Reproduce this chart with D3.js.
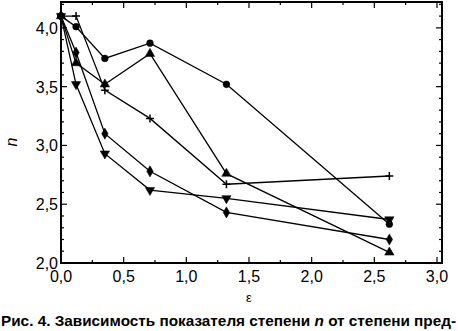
<!DOCTYPE html>
<html>
<head>
<meta charset="utf-8">
<script src="https://cdn.jsdelivr.net/npm/d3@7"></script>
<style>
body { margin: 0; background: #fff; }
text { font-family: "Liberation Sans", Arial, sans-serif; fill: #000; }
</style>
</head>
<body>
<script>
let w = 458;
let h = 331;

// x values (strain), shared by all curves
let eps = [0, 0.12, 0.35, 0.71, 1.32, 2.62];

// n values for each curve
let nCircle   = [4.10, 4.01, 3.74, 3.87, 3.52, 2.33];
let nPlus     = [4.10, 4.10, 3.47, 3.23, 2.67, 2.74];
let nTriUp    = [4.10, 3.70, 3.52, 3.78, 2.76, 2.09];
let nDiamond  = [4.10, 3.79, 3.10, 2.78, 2.43, 2.20];
let nTriDown  = [4.10, 3.52, 2.93, 2.62, 2.55, 2.37];

let xTicks = [0, 0.5, 1, 1.5, 2, 2.5, 3];
let yTicks = [2, 2.5, 3, 3.5, 4];

let series = [
    {marker: "circle", values: nCircle},
    {marker: "plus", values: nPlus},
    {marker: "triUp", values: nTriUp},
    {marker: "diamond", values: nDiamond},
    {marker: "triDown", values: nTriDown}
];

let fmt = function(d) { return d3.format(".1f")(d).replace(".", ","); };

let pLeft = 61, pRight = 442, pTop = 2, pBottom = 263;

let xScale = d3.scaleLinear().domain([0, 3.04]).range([pLeft, pRight]);
let yScale = d3.scaleLinear().domain([2, 4.22]).range([pBottom, pTop]);

let svg = d3.select("body").append("svg")
    .attr("width", w)
    .attr("height", h);

// ticks, drawn inward on all four sides
let ticks = svg.append("g").attr("stroke", "#000").attr("stroke-width", 1.2);
let yMinor = d3.range(2, 4.21, 0.1);
yMinor.forEach(function(v) {
    let major = yTicks.some(function(t) { return Math.abs(t - v) < 1e-6; });
    let len = major ? 6 : 3;
    ticks.append("line").attr("x1", pLeft).attr("x2", pLeft + len)
        .attr("y1", yScale(v)).attr("y2", yScale(v));
    ticks.append("line").attr("x1", pRight).attr("x2", pRight - len)
        .attr("y1", yScale(v)).attr("y2", yScale(v));
});
let xMinor = d3.range(0, 3.01, 0.25);
xMinor.forEach(function(v) {
    let major = xTicks.some(function(t) { return Math.abs(t - v) < 1e-6; });
    let len = major ? 6 : 3;
    ticks.append("line").attr("y1", pBottom).attr("y2", pBottom - len)
        .attr("x1", xScale(v)).attr("x2", xScale(v));
    ticks.append("line").attr("y1", pTop).attr("y2", pTop + len)
        .attr("x1", xScale(v)).attr("x2", xScale(v));
});

// frame
svg.append("rect")
    .attr("x", pLeft).attr("y", pTop)
    .attr("width", pRight - pLeft).attr("height", pBottom - pTop)
    .attr("fill", "none").attr("stroke", "#000").attr("stroke-width", 2);

// tick labels
svg.selectAll(".ylab").data(yTicks).enter().append("text")
    .attr("class", "ylab")
    .attr("x", pLeft - 3)
    .attr("y", function(d) { return yScale(d) + 6; })
    .attr("text-anchor", "end")
    .style("font-size", "16px")
    .text(fmt);

svg.selectAll(".xlab").data(xTicks).enter().append("text")
    .attr("class", "xlab")
    .attr("x", function(d) { return xScale(d); })
    .attr("y", pBottom + 19)
    .attr("text-anchor", "middle")
    .style("font-size", "16px")
    .text(fmt);

// axis titles
svg.append("text")
    .attr("transform", "translate(17,142) rotate(-90)")
    .attr("text-anchor", "middle")
    .style("font-size", "16px")
    .style("font-style", "italic")
    .text("n");

svg.append("text")
    .attr("x", 249).attr("y", 302)
    .attr("text-anchor", "middle")
    .style("font-size", "13px")
    .text("ε");

// caption
let cap = svg.append("text")
    .attr("x", 1).attr("y", 326)
    .attr("textLength", 455)
    .attr("lengthAdjust", "spacingAndGlyphs")
    .style("font-size", "15px")
    .style("font-weight", "bold");
cap.append("tspan").text("Рис. 4. Зависимость показателя степени ");
cap.append("tspan").style("font-style", "italic").text("n");
cap.append("tspan").text(" от степени пред-");

// lines
let line = d3.line()
    .x(function(d, i) { return xScale(eps[i]); })
    .y(function(d) { return yScale(d); });

svg.selectAll(".curve").data(series).enter().append("path")
    .attr("class", "curve")
    .attr("d", function(d) { return line(d.values); })
    .attr("fill", "none")
    .attr("stroke", "#000")
    .attr("stroke-width", 1.3);

// markers
let symbolFor = {
    circle: d3.symbol().type(d3.symbolCircle).size(36),
    triUp: d3.symbol().type(d3.symbolTriangle).size(38),
    diamond: d3.symbol().type(d3.symbolDiamond).size(36),
    triDown: d3.symbol().type(d3.symbolTriangle).size(38)
};

series.forEach(function(s) {
    svg.selectAll(null).data(s.values).enter().append("path")
        .attr("transform", function(d, i) {
            let t = "translate(" + xScale(eps[i]) + "," + yScale(d) + ")";
            if (s.marker === "triDown") t += " rotate(180)";
            return t;
        })
        .attr("d", function() {
            if (s.marker === "plus") return "M-4,0H4M0,-4V4";
            return symbolFor[s.marker]();
        })
        .attr("fill", "#000")
        .attr("stroke", "#000")
        .attr("stroke-width", s.marker === "plus" ? 1.5 : 0.5);
});
</script>
</body>
</html>
